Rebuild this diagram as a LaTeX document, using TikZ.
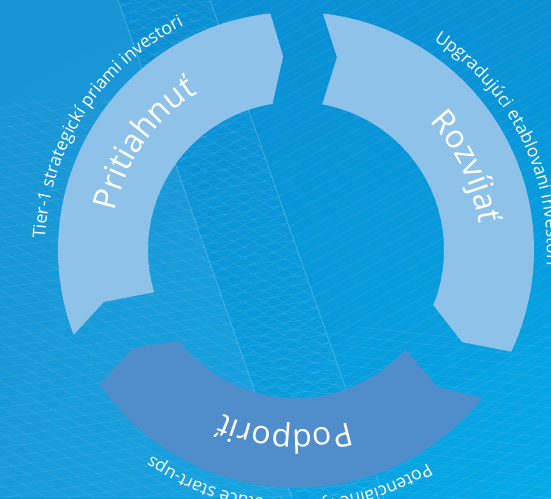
\documentclass[tikz,border=0pt]{standalone}
\usepackage{fontspec}
\setmainfont{Open Sans}
\usetikzlibrary{decorations.text,shadings}
\definecolor{bgTL}{HTML}{0B8ED3}
\definecolor{bgTR}{HTML}{0A91D5}
\definecolor{bgBL}{HTML}{0B95D7}
\definecolor{bgBR}{HTML}{05AAE7}
\definecolor{ringlight}{HTML}{8EC2E9}
\definecolor{ringdark}{HTML}{508DCB}
\tikzset{
  gridline/.style={white,opacity=0.13,line width=0.45pt},
  seamline/.style={white,opacity=0.22,line width=0.8pt},
  biglabel/.style={decorate,decoration={text along path,text align=center,text color=white,
     text={|\fontsize{32}{32}\selectfont|#1}}},
  smalllabelc/.style={decorate,decoration={text along path,text align=center,text color=white,
     text={|\fontsize{17.5}{17.5}\selectfont|#1}}},
  smalllabell/.style={decorate,decoration={text along path,text align=left,text color=white,
     text={|\fontsize{17.5}{17.5}\selectfont|#1}}}
}
\begin{document}
\begin{tikzpicture}[x=1pt,y=1pt]
\useasboundingbox (0,0) rectangle (551,498);
\begin{scope}
\clip (0,0) rectangle (551,498);
\shade[upper left=bgTL,upper right=bgTR,lower left=bgBL,lower right=bgBR] (0,0) rectangle (551,498);
% lighter left panel
\fill[white,opacity=0.06] (0,498) -- (118,498) -- (292,0) -- (0,0) -- cycle;
% grid texture, left panel
\begin{scope}
\clip (0,398) -- (153,398) -- (292,0) -- (0,0) -- cycle;
\foreach \k in {-200,-190,...,420} \draw[gridline] (0,\k) -- (551,\k+82);
\foreach \k in {0,13,...,800} \draw[gridline] (0,\k) -- (551,\k-303);
\end{scope}
% middle panel
\begin{scope}
\clip (118,498) -- (210,498) -- (384,0) -- (292,0) -- cycle;
\foreach \k in {-200,-191,...,500} \draw[gridline] (0,\k) -- (551,\k+82);
\foreach \k in {0,11,...,900} \draw[gridline] (0,\k) -- (551,\k-303);
\foreach \k in {-400,-389,...,500} \draw[gridline] (0,\k) -- (551,\k+303);
\end{scope}
% right panel
\begin{scope}
\clip (210,498) -- (551,498) -- (551,0) -- (384,0) -- cycle;
\foreach \k in {-500,-488,...,500} \draw[gridline] (0,\k) -- (551,\k+303);
\end{scope}
\begin{scope}
\clip (250,170) -- (551,170) -- (551,0) -- (250,0) -- cycle;
\foreach \k in {-100,-90,...,300} \draw[gridline] (0,\k) -- (551,\k-60);
\end{scope}
\draw[seamline] (118,498) -- (292,0);
\draw[seamline] (210,498) -- (384,0);
\end{scope}
% ring
\begin{scope}[shift={(296,248)}]
\fill[ringlight] (96.2:238) arc[start angle=96.2,end angle=200.9,radius=238]
  -- (195.1:199) -- (196.6:148) arc[start angle=196.6,end angle=99.1,radius=148]
  -- (93.8:194) -- cycle;
\fill[ringlight] (83.5:238) arc[start angle=83.5,end angle=-25.3,radius=238]
  -- (-29:190) -- (-21.9:148) arc[start angle=-21.9,end angle=79.8,radius=148]
  -- (78:197) -- cycle;
\fill[ringdark] (-38.4:238) arc[start angle=-38.4,end angle=-145.6,radius=238]
  -- (-149:190) -- (-142.1:148) arc[start angle=-142.1,end angle=-42.3,radius=148]
  -- (-44:197) -- cycle;
% main labels
\path[biglabel={Pritiahnuť}] (200:185) arc[start angle=200,end angle=90,radius=185];
\path[biglabel={Rozvíjať}] (81:185) arc[start angle=81,end angle=-29,radius=185];
\path[biglabel={Podporiť}] (-38:180) arc[start angle=-38,end angle=-148.8,radius=180];
% outer labels
\begin{scope}
\clip (-296,-248) rectangle (255,250);
\path[smalllabelc={Tier-1 strategickí priami investori}] (207:251) arc[start angle=207,end angle=87,radius=251];
\path[smalllabell={Upgradujúci etablovaní investori}] (56.7:251) arc[start angle=56.7,end angle=-60,radius=251];
\path[smalllabell={Potenciálne rýchlo rastúce start-ups}] (-58.3:251) arc[start angle=-58.3,end angle=-200,radius=251];
\end{scope}
\end{scope}
\end{tikzpicture}
\end{document}
